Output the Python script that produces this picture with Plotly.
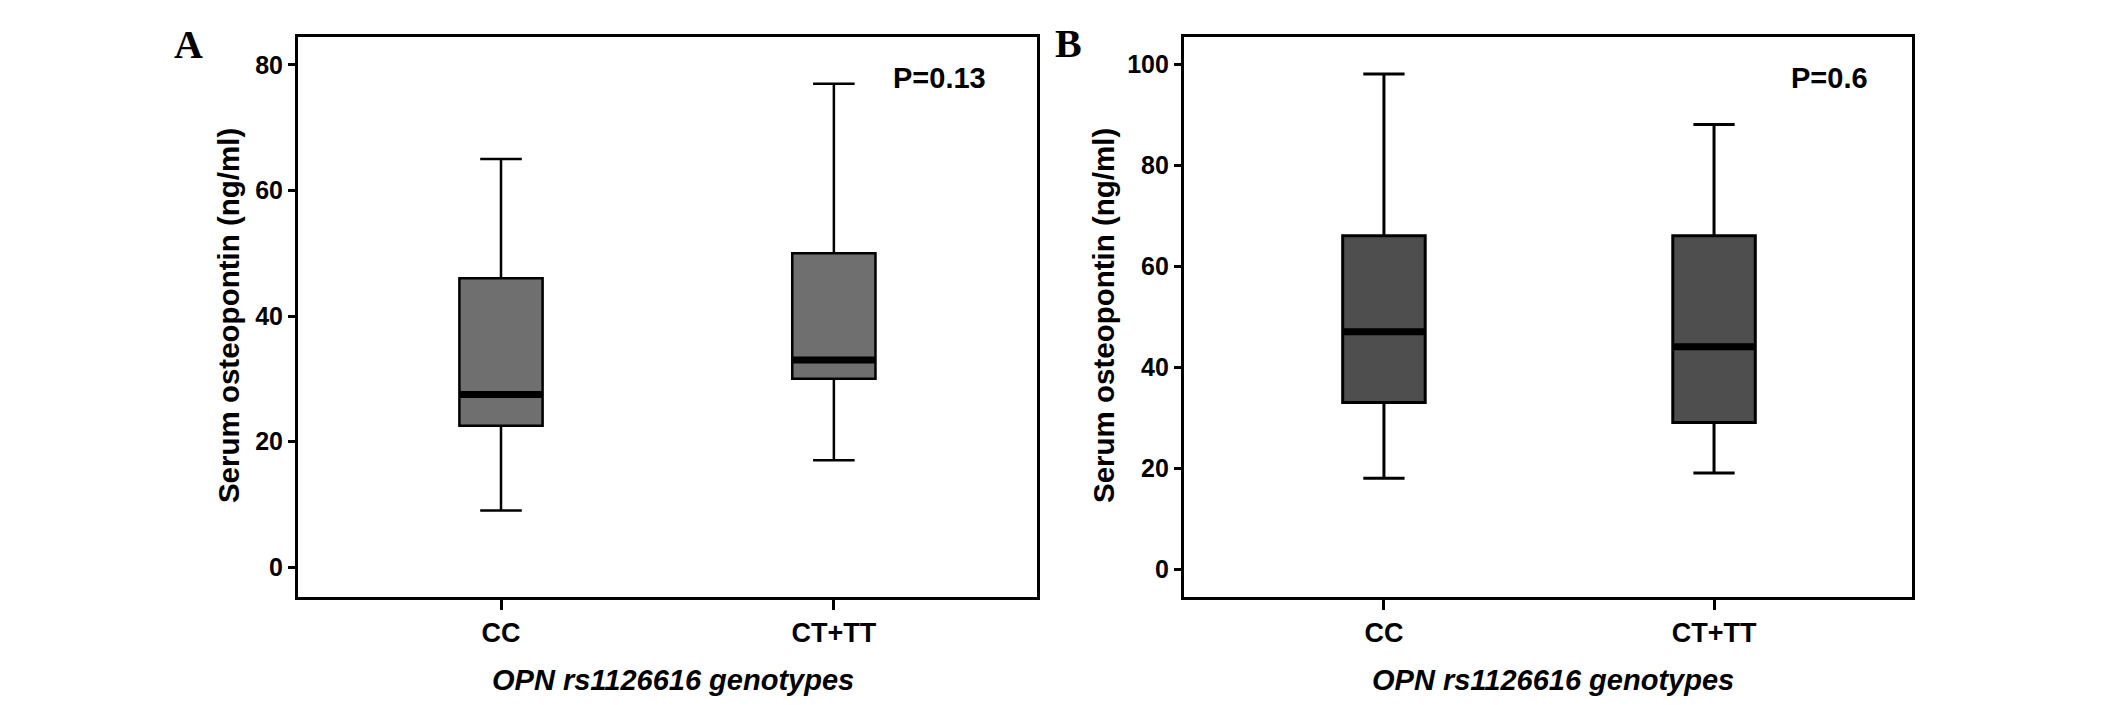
import plotly.graph_objects as go
from plotly.subplots import make_subplots

# genotype groups
groups = ["CC", "CT+TT"]
positions = [0, 1]

# panel A: serum osteopontin (ng/ml)
a_low = [9, 17]
a_q1 = [22.5, 30]
a_med = [27.5, 33]
a_q3 = [46, 50]
a_high = [65, 77]
a_p = "P=0.13"

# panel B: serum osteopontin (ng/ml)
b_low = [18, 19]
b_q1 = [33, 29]
b_med = [47, 44]
b_q3 = [66, 66]
b_high = [98, 88]
b_p = "P=0.6"

BOXW = 0.25
SANS = "Liberation Sans, Arial, sans-serif"
SERIF = "Liberation Serif, Times New Roman, serif"

# the page body keeps an 8px margin, so the figure is a little smaller
W, H = 2118, 697

fig = make_subplots(rows=1, cols=2)

panels = [
    (1, a_low, a_q1, a_med, a_q3, a_high, "#6f6f6f", 2.5),
    (2, b_low, b_q1, b_med, b_q3, b_high, "#4e4e4e", 3),
]
for col, low, q1, med, q3, high, fill, lw in panels:
    fig.add_trace(go.Box(
        x=positions, q1=q1, median=med, q3=q3,
        lowerfence=low, upperfence=high,
        width=BOXW, whiskerwidth=0.5,
        fillcolor=fill, line=dict(color="black", width=lw),
        showlegend=False, hoverinfo="skip",
    ), row=1, col=col)
    # thick median bars
    for p, m in zip(positions, med):
        fig.add_trace(go.Scatter(
            x=[p - BOXW / 2, p + BOXW / 2], y=[m, m], mode="lines",
            line=dict(color="black", width=7), showlegend=False, hoverinfo="skip",
        ), row=1, col=col)

xaxis_style = dict(
    tickvals=positions, ticktext=groups,
    showline=True, mirror=True, linecolor="black", linewidth=3,
    ticks="outside", ticklen=10, tickwidth=3, tickcolor="black",
    showgrid=False, zeroline=False,
    tickfont=dict(family=SANS, size=27, color="black", weight="bold"),
)
yaxis_style = dict(
    dtick=20, showline=True, mirror=True, linecolor="black", linewidth=3,
    ticks="outside", ticklen=7, tickwidth=3, tickcolor="black",
    showgrid=False, zeroline=False,
    tickfont=dict(family=SANS, size=25, color="black", weight="bold"),
)

fig.update_xaxes(**xaxis_style)
fig.update_yaxes(**yaxis_style)
fig.update_layout(
    xaxis=dict(domain=[0.1369, 0.4858], range=[-0.61, 1.61]),
    xaxis2=dict(domain=[0.5552, 0.8990], range=[-0.606, 1.6]),
    yaxis=dict(domain=[0.1549, 0.9584], range=[-4.78, 84.46]),
    yaxis2=dict(domain=[0.1549, 0.9584], range=[-5.54, 105.35]),
    width=W, height=H,
    margin=dict(l=0, r=0, t=0, b=0),
    paper_bgcolor="white", plot_bgcolor="white",
)

notes = [
    ("Serum osteopontin (ng/ml)", 0.1039, 0.5581, -90, False, 29.5),
    ("Serum osteopontin (ng/ml)", 0.5170, 0.5581, -90, False, 29.5),
    ("OPN rs1126616 genotypes", 0.3140, 0.0359, 0, True, 29),
    ("OPN rs1126616 genotypes", 0.7295, 0.0359, 0, True, 29),
    (a_p, 0.4400, 0.8996, 0, False, 29),
    (b_p, 0.8598, 0.8996, 0, False, 29),
]
for text, x, y, ang, ital, size in notes:
    fig.add_annotation(
        text=text, xref="paper", yref="paper", x=x, y=y,
        xanchor="center", yanchor="middle", textangle=ang, showarrow=False,
        font=dict(family=SANS, size=size, color="black", weight="bold",
                  style="italic" if ital else "normal"),
    )

for text, x, y in [("A", 0.0850, 0.9476), ("B", 0.5005, 0.9484)]:
    fig.add_annotation(
        text=text, xref="paper", yref="paper", x=x, y=y,
        xanchor="center", yanchor="middle", showarrow=False,
        font=dict(family=SERIF, size=40, color="black", weight="bold"),
    )

fig.write_html("out.html")
